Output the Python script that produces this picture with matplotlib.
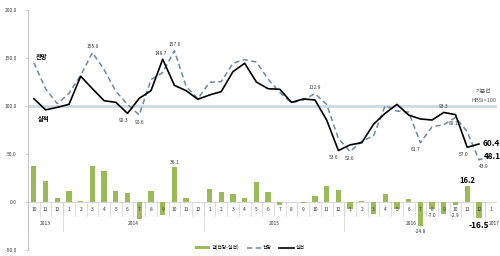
import matplotlib
matplotlib.use("Agg")
import matplotlib.pyplot as plt
import numpy as np

plt.rcParams['font.family'] = ['Noto Sans CJK KR', 'DejaVu Sans']

# 2013-10 .. 2017-01
months = ['10', '11', '12'] + [str(m) for m in range(1, 13)] * 3 + ['1']
years = ['2013', '2014', '2015', '2016', '2017']
year_spans = [(0, 2), (3, 14), (15, 26), (27, 38), (39, 39)]

actual = [107.6, 96.0, 98.6, 101.7, 131.0, 118.0, 105.5, 103.8, 92.3, 108.0,
          116.0, 148.7, 121.5, 116.0, 107.0, 111.5, 115.0, 135.8, 144.5, 125.0,
          118.0, 117.4, 103.8, 107.3, 106.3, 85.4, 53.6, 59.5, 61.8, 81.0,
          92.4, 101.7, 90.6, 86.5, 85.4, 93.3, 91.0, 57.0, 60.4]
forecast = [145.1, 117.9, 102.4, 113.2, 132.0, 155.6, 137.8, 115.3, 101.7, 90.6,
            127.5, 134.8, 157.6, 120.5, 107.5, 124.7, 125.4, 144.5, 148.3, 145.8,
            128.0, 113.9, 103.3, 106.3, 112.9, 101.7, 66.1, 52.6, 63.3, 68.8,
            100.4, 94.7, 93.7, 61.7, 78.4, 80.5, 88.1, 73.2, 43.9, 48.1]
gap = [37.5, 21.9, 3.8, 11.5, 1.0, 37.6, 32.3, 11.5, 9.4, -17.4,
       11.5, -13.9, 36.1, 4.5, 0.5, 13.2, 10.4, 8.7, 3.8, 20.8,
       10.0, -3.5, -0.5, -1.0, 6.6, 16.3, 12.5, -6.9, 1.5, -12.2,
       8.0, -7.0, 3.1, -24.8, -7.0, -12.8, -2.9, 16.2, -16.5]

# labelled points: (index, dx, dy)
fc_labels = [(5, 0, 6), (9, 0, -8), (12, 0, 6), (24, 0, 6), (27, 0, -7),
             (33, -0.4, -7), (36, -0.2, -6), (38, 0.4, -7)]
ac_labels = [(8, -0.3, -7), (11, -0.2, 6), (26, -0.4, -7), (35, 0, 6), (37, -0.3, -7)]
gap_labels = [(12, 5), (33, -30.5), (34, -14.5), (36, -14.5)]

fig = plt.figure(figsize=(5, 2.56), dpi=100)
ax = fig.add_axes([28 / 500, 6 / 256, 468.5 / 500, 240 / 256])
x = np.arange(len(months))

ax.axhline(100, color='#c9d5de', lw=1.8, zorder=1)
bars = ax.bar(x[:len(gap)], gap, width=0.45, color='#9bbb59', zorder=2)
fc_line, = ax.plot(x[:len(forecast)], forecast, color='#7088a2', lw=1.1,
                   dashes=(3.5, 2.2), zorder=3)
ac_line, = ax.plot(x[:len(actual)], actual, color='black', lw=1.2, zorder=4)

for i, dx, dy in fc_labels:
    ax.text(i + dx, forecast[i] + dy, f'{forecast[i]:.1f}', fontsize=3.5,
            ha='center', va='center', color='#333333')
for i, dx, dy in ac_labels:
    ax.text(i + dx, actual[i] + dy, f'{actual[i]:.1f}', fontsize=3.5,
            ha='center', va='center', color='#333333')
for i, y in gap_labels:
    yy = gap[i] + y if y > 0 else y
    ax.text(i, yy, f'{gap[i]:.1f}', fontsize=3.5,
            ha='center', va='center', color='#333333')

# bold end values
ax.text(38.3, actual[38] + 1, f'{actual[38]:.1f}', fontsize=6,
        fontweight='bold', ha='left', va='center')
ax.text(38.45, forecast[39] - 1, f'{forecast[39]:.1f}', fontsize=5.8,
        fontweight='bold', ha='left', va='center')
ax.text(37, gap[37] + 6, f'{gap[37]:.1f}', fontsize=5.5,
        fontweight='bold', ha='center', va='center')
ax.text(38.0, -24, f'{gap[38]:.1f}', fontsize=6,
        fontweight='bold', ha='center', va='center', zorder=5)

ax.text(0.2, 152, '전망', fontsize=4.5, fontweight='bold', ha='left', va='center')
ax.text(0.3, 87, '실적', fontsize=4.5, fontweight='bold', ha='left', va='center')
ax.text(38.4, 115, '기준선', fontsize=4, ha='center', va='center', color='#555555')
ax.text(38.4, 106, 'HBSI=100', fontsize=4, ha='center', va='center', color='#555555')

# category axis below zero
ax.axhline(0, color='#d0d0d0', lw=0.6, zorder=1)
for i, m in enumerate(months):
    ax.text(i, -7.5, m, fontsize=3.5, ha='center', va='center', color='#333333')
for i in range(len(months) + 1):
    ax.plot([i - 0.5, i - 0.5], [0, -15], color='#d0d0d0', lw=0.5, zorder=1)
year_x = [1, 8.5, 20.5, 32.2, 39.3]
for (a, b), yr, xx in zip(year_spans, years, year_x):
    ax.plot([a - 0.5, a - 0.5], [0, -30], color='#d0d0d0', lw=0.5, zorder=1)
    ax.text(xx, -22, yr, fontsize=3.5, ha='center', va='center',
            color='#333333', zorder=1)

ax.set_xlim(-0.5, 39.5)
ax.set_ylim(-50, 200)
ax.set_yticks([-50, 0, 50, 100, 150, 200])
ax.set_yticklabels([f'{v:.1f}' for v in [-50, 0, 50, 100, 150, 200]],
                   fontsize=3.5, color='#333333')
ax.tick_params(axis='y', length=2, width=0.5, color='#bbbbbb', pad=6)
ax.set_xticks([])
for s in ['top', 'right', 'bottom']:
    ax.spines[s].set_visible(False)
ax.spines['left'].set_color('#bbbbbb')
ax.spines['left'].set_linewidth(0.6)

ax.legend([bars, fc_line, ac_line], ['갭(전망-실적)', '전망', '실적'],
          loc='center', bbox_to_anchor=(222 / 468.5, 0.01),
          ncol=3, fontsize=3.5, frameon=False, handlelength=3,
          columnspacing=1.5, handletextpad=0.4)

fig.savefig('out.png', dpi=100)
